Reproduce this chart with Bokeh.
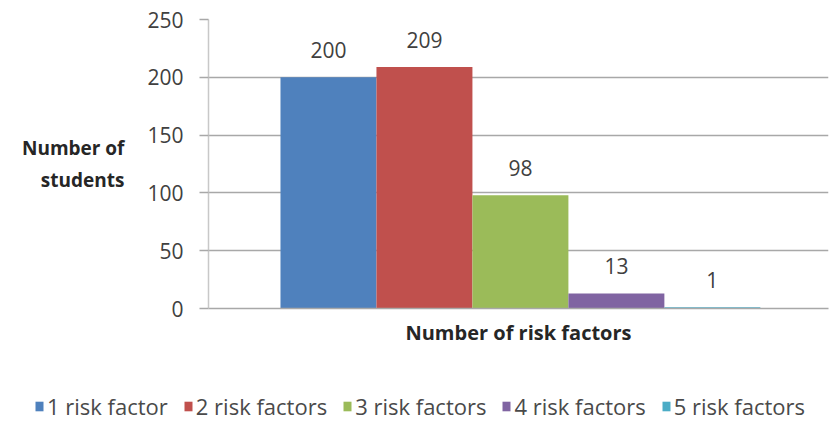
from bokeh.plotting import figure
from bokeh.models import (ColumnDataSource, Range1d, FixedTicker, Legend, LegendItem, LabelSet)
from bokeh.layouts import column
from bokeh.core.properties import value
from bokeh.embed import file_html
from bokeh.resources import INLINE

series = ["1 risk factor", "2 risk factors", "3 risk factors", "4 risk factors", "5 risk factors"]
values = [200, 209, 98, 13, 1]
colors = ["#4F81BD", "#C0504D", "#9BBB59", "#8064A2", "#4BACC6"]
y_ticks = [0, 50, 100, 150, 200, 250]
x_title = "Number of risk factors"
y_title = "Number of\nstudents"

FONT = "Open Sans"
TXT = "#404040"

src = ColumnDataSource(dict(x=list(range(len(series))), top=values, color=colors,
                            name=series, lab=[str(v) for v in values]))

p = figure(frame_width=620, frame_height=289, output_backend="svg", toolbar_location=None,
           x_range=Range1d(-1.25, 5.21), y_range=Range1d(0, 250),
           min_border_left=208, min_border_right=5, min_border_top=19, min_border_bottom=62)
p.outline_line_color = None
p.background_fill_color = "white"
p.frame_align = False

r = p.vbar(x="x", top="top", width=1.0, bottom=0, fill_color="color", line_color=None, source=src)

labels = LabelSet(x="x", y="top", text="lab", source=src, text_align="center",
                  text_baseline="bottom", y_offset=19, text_font=value(FONT),
                  text_font_size=value("21px"), text_color=TXT)
p.add_layout(labels)

p.xgrid.visible = False
p.ygrid.grid_line_color = "#a8a8a8"
p.ygrid.grid_line_width = 1.5

xa = p.xaxis[0]
xa.ticker = FixedTicker(ticks=[])
xa.axis_line_color = "#a8a8a8"
xa.axis_line_width = 1.5
xa.major_tick_line_color = None
xa.minor_tick_line_color = None
xa.major_label_text_font_size = "0px"
xa.axis_label = x_title
xa.axis_label_standoff = 10
xa.axis_label_text_font = FONT
xa.axis_label_text_font_size = "20px"
xa.axis_label_text_font_style = "bold"
xa.axis_label_text_color = "#262626"

ya = p.yaxis[0]
ya.ticker = FixedTicker(ticks=y_ticks)
ya.axis_line_color = "#c8c8c8"
ya.axis_line_width = 1.5
ya.major_tick_line_color = "#a8a8a8"
ya.major_tick_line_width = 1.5
ya.major_tick_out = 9
ya.major_tick_in = 0
ya.minor_tick_line_color = None
ya.major_label_standoff = 16
ya.major_label_text_font = FONT
ya.major_label_text_font_size = "21px"
ya.major_label_text_color = TXT
ya.axis_label = y_title
ya.axis_label_orientation = "horizontal"
ya.axis_label_standoff = 20
ya.axis_label_text_font = FONT
ya.axis_label_text_font_size = "19px"
ya.axis_label_text_font_style = "bold"
ya.axis_label_text_color = "#262626"
ya.axis_label_text_align = "center"

# legend strip below the chart
lg = figure(width=833, height=53, output_backend="svg", toolbar_location=None,
            x_range=Range1d(-1.25, 5.21), y_range=Range1d(1000, 1001),
            x_axis_type=None, y_axis_type=None,
            min_border_left=0, min_border_right=0, min_border_top=0, min_border_bottom=0)
lg.outline_line_color = None
lg.grid.visible = False
lg.frame_align = False
lr = lg.vbar(x="x", top="top", width=1.0, bottom=0, fill_color="color", line_color=None, source=src)

items = [LegendItem(label=series[i], renderers=[lr], index=i) for i in range(len(series))]
legend = Legend(items=items, orientation="horizontal", location=(34, 2),
                glyph_width=10, glyph_height=12, label_standoff=3, spacing=15,
                padding=0, margin=0, border_line_color=None, background_fill_alpha=0,
                label_text_font=FONT, label_text_font_size="22px", label_text_color="#4a4a4a",
                label_height=20)
lg.add_layout(legend, "center")

layout = column(p, lg, spacing=0)
open("out.html", "w").write(file_html(layout, INLINE))
